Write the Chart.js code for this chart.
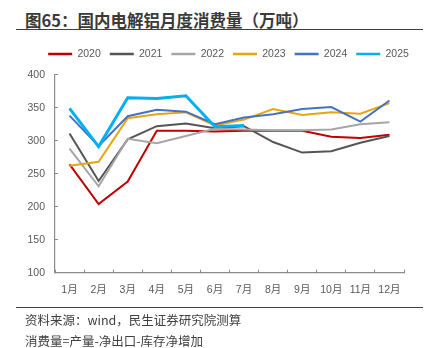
<!DOCTYPE html>
<html>
<head>
<meta charset="utf-8">
<script src="https://cdn.jsdelivr.net/npm/chart.js@4/dist/chart.umd.min.js"></script>
<style>
  html, body { margin: 0; padding: 0; background: #ffffff; }
  #wrap { position: relative; width: 439px; height: 348px; overflow: hidden; background: #fff; }
  #c { position: absolute; left: 0; top: 0; }
  .title { position: absolute; left: 25px; top: 9px; font-family: "Noto Sans CJK SC", sans-serif; font-weight: bold; font-size: 16.5px; line-height: 22px; color: #3a3a3a; white-space: nowrap; }
  .rule { position: absolute; left: 16px; width: 407px; background: #404040; }
  .note { position: absolute; left: 25px; font-family: "Noto Sans CJK SC", sans-serif; font-size: 12.5px; line-height: 16px; color: #404040; white-space: nowrap; }
</style>
</head>
<body>
<div id="wrap">
  <div class="title">图65：国内电解铝月度消费量（万吨）</div>
  <div class="rule" style="top:28.5px;height:1.6px;"></div>
  <canvas id="c" width="439" height="348"></canvas>
  <div class="rule" style="top:307px;height:1.2px;"></div>
  <div class="note" style="top:312px;">资料来源：wind，民生证券研究院测算</div>
  <div class="note" style="top:333px;">消费量=产量-净出口-库存净增加</div>
</div>
<script>
const months = ['1月','2月','3月','4月','5月','6月','7月','8月','9月','10月','11月','12月'];
const seriesNames = ['2020','2021','2022','2023','2024','2025'];
const v2020 = [264, 204, 238, 315, 315, 314, 315, 315, 315, 306, 304, 309];
const v2021 = [311, 239, 302, 322, 326, 319, 322, 298, 282, 284, 297, 307];
const v2022 = [288, 231, 303, 296, 307, 318, 317, 316, 316, 317, 325, 328];
const v2023 = [262, 268, 334, 340, 343, 323, 332, 348, 339, 343, 341, 357];
const v2024 = [338, 292, 337, 347, 344, 325, 335, 340, 348, 351, 329, 361];
const v2025 = [349, 291, 365, 364, 368, 321, 323];
const yTicks = [100, 150, 200, 250, 300, 350, 400];

const colors = ['#C00000', '#555555', '#A6A6A6', '#E6A612', '#4472C4', '#00B0F0'];
const widths = [2, 2, 2, 2, 2, 3];
const values = [v2020, v2021, v2022, v2023, v2024, v2025];

const font = { family: '"Liberation Sans", "Noto Sans CJK SC", sans-serif', size: 10.5 };
const axisColor = '#8C8C8C';

const datasets = seriesNames.map((name, i) => ({
  label: name,
  data: values[i],
  borderColor: colors[i],
  backgroundColor: colors[i],
  borderWidth: widths[i],
  pointRadius: 0,
  pointHoverRadius: 0,
  tension: 0,
  fill: false,
  order: seriesNames.length - i
}));

new Chart(document.getElementById('c'), {
  type: 'line',
  data: { labels: months, datasets },
  options: {
    responsive: false,
    animation: false,
    events: [],
    layout: { padding: { left: 18, right: 0, top: 39.75, bottom: 0 } },
    plugins: {
      tooltip: { enabled: false },
      title: { display: false },
      legend: {
        display: true,
        position: 'top',
        fullSize: true,
        labels: {
          font: font,
          color: '#595959',
          boxWidth: 24,
          boxHeight: 2.5,
          padding: 9,
          sort: (a, b) => a.datasetIndex - b.datasetIndex,
          generateLabels: (chart) => {
            const items = Chart.defaults.plugins.legend.labels.generateLabels(chart);
            items.forEach(it => { it.lineWidth = 0; it.strokeStyle = 'rgba(0,0,0,0)'; });
            return items;
          }
        }
      }
    },
    scales: {
      x: {
        type: 'category',
        position: 'bottom',
        offset: true,
        grid: { display: true, drawOnChartArea: false, drawTicks: true, tickLength: -3, offset: true, color: axisColor, lineWidth: 1 },
        border: { display: true, color: axisColor, width: 1.2 },
        ticks: { font: font, color: '#595959', padding: 14.5, maxRotation: 0, autoSkip: false },
        afterFit: (s) => { s.height = 75.3; }
      },
      x2: {
        type: 'category',
        position: 'top',
        display: true,
        grid: { display: false, drawTicks: false },
        border: { display: false },
        ticks: { display: false },
        afterFit: (s) => { s.height = 5.45; }
      },
      y: {
        type: 'linear',
        position: 'left',
        min: 100,
        max: 400,
        afterBuildTicks: (s) => { s.ticks = yTicks.map(v => ({ value: v })); },
        grid: { display: true, drawOnChartArea: false, drawTicks: true, tickLength: -3, color: axisColor, lineWidth: 1 },
        border: { display: true, color: axisColor, width: 1.2 },
        ticks: { font: font, color: '#595959', padding: 13 },
        afterFit: (s) => { s.width = 37; }
      },
      y2: {
        type: 'linear',
        position: 'right',
        display: true,
        min: 100,
        max: 400,
        grid: { display: false, drawTicks: false },
        border: { display: false },
        ticks: { display: false },
        afterFit: (s) => { s.width = 35; }
      }
    }
  }
});
</script>
</body>
</html>
